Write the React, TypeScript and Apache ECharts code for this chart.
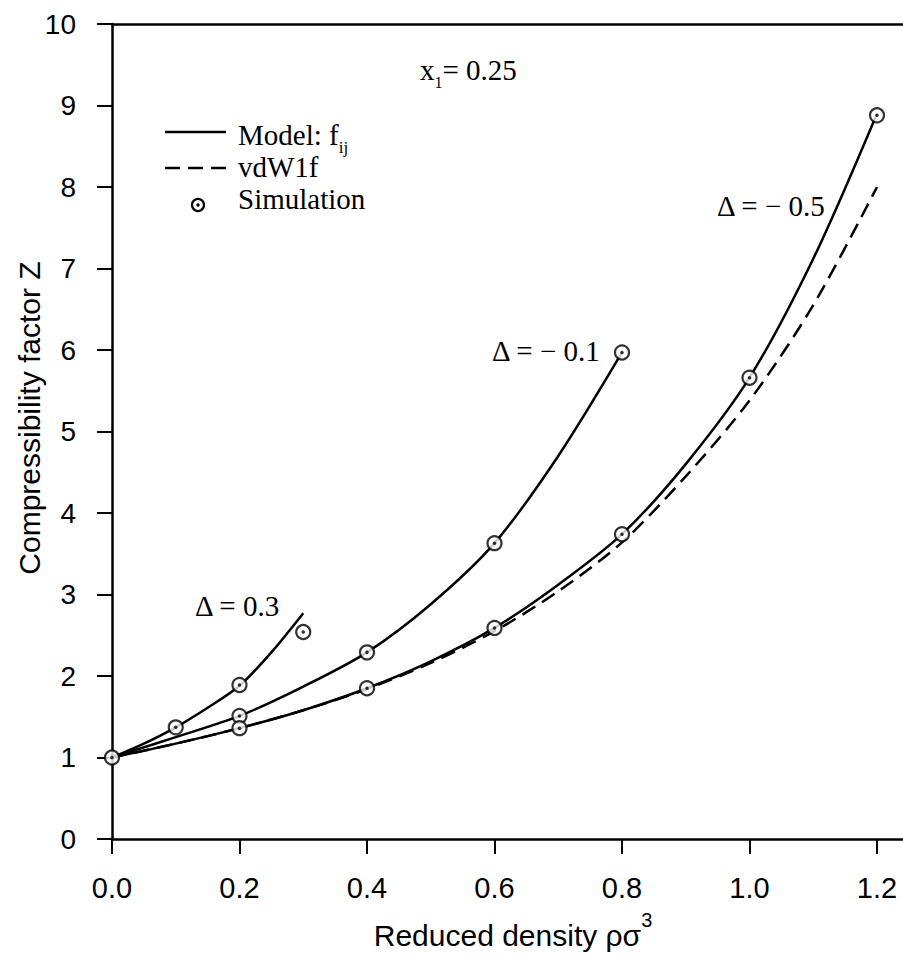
import React, { useEffect, useRef } from 'react';
import * as echarts from 'echarts';

// Data
const xTickValues = [0, 0.2, 0.4, 0.6, 0.8, 1.0, 1.2];
const yTickValues = [0, 1, 2, 3, 4, 5, 6, 7, 8, 9, 10];

const modelDelta03 = [
  [0, 1], [0.05, 1.17], [0.1, 1.37], [0.15, 1.61], [0.2, 1.88], [0.25, 2.29], [0.3, 2.77],
];
const modelDeltaM01 = [
  [0, 1], [0.1, 1.25], [0.2, 1.51], [0.3, 1.87], [0.4, 2.29], [0.5, 2.88], [0.6, 3.63],
  [0.7, 4.7], [0.8, 5.97],
];
const modelDeltaM05 = [
  [0, 1], [0.1, 1.17], [0.2, 1.36], [0.3, 1.58], [0.4, 1.85], [0.5, 2.18], [0.6, 2.59],
  [0.7, 3.12], [0.8, 3.74], [0.9, 4.6], [1.0, 5.66], [1.1, 7.12], [1.2, 8.9],
];
const vdW1fDeltaM05 = [
  [0, 1], [0.1, 1.17], [0.2, 1.36], [0.3, 1.58], [0.4, 1.84], [0.5, 2.16], [0.6, 2.55],
  [0.7, 3.04], [0.8, 3.64], [0.9, 4.45], [1.0, 5.38], [1.1, 6.55], [1.2, 8.0],
];
const simulationPoints = [
  [0, 1],
  [0.1, 1.37], [0.2, 1.89], [0.3, 2.54],
  [0.2, 1.51], [0.4, 2.29], [0.6, 3.63], [0.8, 5.97],
  [0.2, 1.36], [0.4, 1.85], [0.6, 2.59], [0.8, 3.74], [1.0, 5.66], [1.2, 8.88],
];

const SANS = '"Liberation Sans", Arial, Helvetica, sans-serif';
const SERIF = '"Liberation Serif", "Times New Roman", Times, serif';

export default function App() {
  const ref = useRef<HTMLDivElement>(null);

  useEffect(() => {
    if (!ref.current) return;
    const chart = echarts.init(ref.current, undefined, { renderer: 'svg' });

    const isTick = (v: number) =>
      xTickValues.some((t) => Math.abs(t - v) < 1e-6);

    const lineSeries = (name: string, data: number[][], dashed: boolean) => ({
      name,
      type: 'line',
      data,
      smooth: 0.3,
      showSymbol: false,
      symbol: 'none',
      z: 2,
      lineStyle: {
        color: '#000',
        width: 2.5,
        type: dashed ? [15, 8] : 'solid',
      },
    });

    const serifText = (text: string, x: number, y: number, size = 29, rich?: any) => ({
      type: 'text',
      z: 10,
      style: {
        text,
        x,
        y,
        fill: '#000',
        fontSize: size,
        fontFamily: SERIF,
        align: 'left',
        verticalAlign: 'middle',
        textAlign: 'left',
        textVerticalAlign: 'middle',
        rich,
      },
    });

    const option: any = {
      animation: false,
      backgroundColor: '#fff',
      grid: { left: 112, top: 24, width: 1.3 * 637.5, height: 815, containLabel: false },
      xAxis: [
        {
          type: 'value',
          min: 0,
          max: 1.3,
          interval: 0.2,
          position: 'bottom',
          axisLine: { show: true, lineStyle: { color: '#000', width: 2.5 } },
          axisTick: { show: true, length: 15, lineStyle: { color: '#000', width: 2 } },
          axisLabel: {
            show: true,
            margin: 34,
            color: '#000',
            fontSize: 29,
            fontFamily: SANS,
            formatter: (v: number) => (isTick(v) ? v.toFixed(1) : ''),
          },
          splitLine: { show: false },
        },
        {
          type: 'value',
          min: 0,
          max: 1.3,
          position: 'top',
          axisLine: { show: true, lineStyle: { color: '#000', width: 2.5 } },
          axisTick: { show: false },
          axisLabel: { show: false },
          splitLine: { show: false },
        },
      ],
      yAxis: {
        type: 'value',
        min: 0,
        max: 10,
        interval: 1,
        axisLine: { show: true, lineStyle: { color: '#000', width: 2.5 } },
        axisTick: { show: true, length: 15, lineStyle: { color: '#000', width: 2 } },
        axisLabel: {
          margin: 36,
          color: '#000',
          fontSize: 28,
          fontFamily: SANS,
          formatter: (v: number) => (yTickValues.includes(v) ? String(v) : ''),
        },
        splitLine: { show: false },
      },
      series: [
        lineSeries('Model: fij (Δ = 0.3)', modelDelta03, false),
        lineSeries('Model: fij (Δ = −0.1)', modelDeltaM01, false),
        lineSeries('Model: fij (Δ = −0.5)', modelDeltaM05, false),
        lineSeries('vdW1f (Δ = −0.5)', vdW1fDeltaM05, true),
        {
          name: 'Simulation',
          type: 'scatter',
          data: simulationPoints,
          symbol: 'circle',
          symbolSize: 14,
          z: 5,
          itemStyle: { color: '#fff', borderColor: '#000', borderWidth: 2.2 },
        },
        {
          name: 'Simulation centre',
          type: 'scatter',
          data: simulationPoints,
          symbol: 'circle',
          symbolSize: 3.5,
          z: 6,
          itemStyle: { color: '#000' },
        },
      ],
      graphic: [
        // legend
        { type: 'line', z: 10, shape: { x1: 165, y1: 132, x2: 226, y2: 132 }, style: { stroke: '#000', lineWidth: 2.5 } },
        { type: 'line', z: 10, shape: { x1: 165, y1: 168, x2: 226, y2: 168 }, style: { stroke: '#000', lineWidth: 2.5, lineDash: [15, 8] } },
        { type: 'circle', z: 10, shape: { cx: 198, cy: 205, r: 6 }, style: { fill: '#fff', stroke: '#000', lineWidth: 2.2 } },
        { type: 'circle', z: 11, shape: { cx: 198, cy: 205, r: 1.7 }, style: { fill: '#000' } },
        serifText('Model: f{sub|ij}', 238, 135, 29, {
          sub: { fontSize: 17, fontFamily: SERIF, fill: '#000', padding: [24, 0, 0, 0] },
        }),
        serifText('vdW1f', 238, 167),
        serifText('Simulation', 238, 199),
        // annotations
        serifText('x{sub|1}= 0.25', 420, 70, 29, {
          sub: { fontSize: 16, fontFamily: SERIF, fill: '#000', padding: [24, 0, 0, 0] },
        }),
        serifText('Δ = 0.3', 195, 606),
        serifText('Δ = − 0.1', 492, 351),
        serifText('Δ = − 0.5', 717, 206),
        // axis titles
        {
          type: 'text',
          z: 10,
          style: {
            text: 'Reduced density ρσ{sup|3}',
            x: 513,
            y: 935,
            fill: '#000',
            fontSize: 30,
            fontFamily: SANS,
            align: 'center',
            verticalAlign: 'middle',
            textAlign: 'center',
            textVerticalAlign: 'middle',
            rich: {
              sup: { fontSize: 20, fontFamily: SANS, fill: '#000', padding: [0, 0, 30, 0] },
            },
          },
        },
        {
          type: 'text',
          z: 10,
          x: 29,
          y: 418,
          rotation: Math.PI / 2,
          style: {
            text: 'Compressibility factor Z',
            x: 0,
            y: 0,
            fill: '#000',
            fontSize: 30,
            fontFamily: SANS,
            align: 'center',
            verticalAlign: 'middle',
            textAlign: 'center',
            textVerticalAlign: 'middle',
          },
        },
      ],
    };

    chart.setOption(option);
    return () => chart.dispose();
  }, []);

  return (
    <div
      style={{
        position: 'absolute',
        left: 0,
        top: 0,
        width: 903,
        height: 974,
        overflow: 'hidden',
        background: '#fff',
      }}
    >
      <div ref={ref} style={{ width: 945, height: 974 }} />
    </div>
  );
}
